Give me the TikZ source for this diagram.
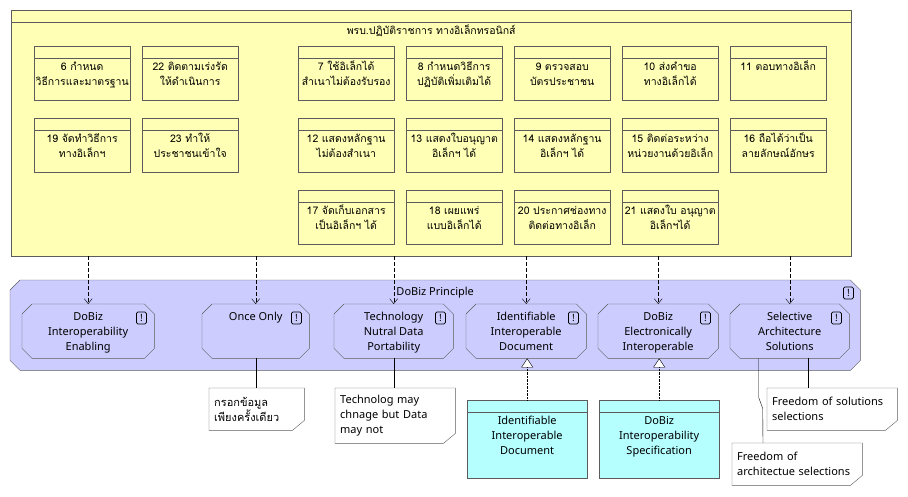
\documentclass[tikz,border=0pt]{standalone}
\usepackage{fontspec}
\setmainfont{Noto Sans}
\newfontfamily\thaifont[Script=Thai]{Loma}
\usetikzlibrary{arrows.meta,backgrounds}

\definecolor{bizyellow}{RGB}{255,255,181}
\definecolor{motivblue}{RGB}{204,204,255}
\definecolor{appcyan}{RGB}{181,255,255}
\definecolor{edgegray}{RGB}{92,92,92}

\tikzset{
  fbox/.style={draw=edgegray,fill=bizyellow,minimum width=96pt,minimum height=54pt,inner sep=0pt,anchor=north west},
  ftext/.style={anchor=north,align=center,inner sep=0pt,font=\thaifont\fontsize{10.5}{15}\selectfont},
  princ/.style={minimum height=54pt,inner sep=0pt,anchor=north west},
  ptext/.style={anchor=north,align=center,inner sep=0pt,font=\fontsize{11}{15}\selectfont},
  warn/.style={draw=black,line width=0.8pt,rounded corners=1.5pt,minimum width=10pt,minimum height=12pt,inner sep=0pt,font=\bfseries\fontsize{10}{10}\selectfont},
  note/.style={inner xsep=5pt,inner ysep=0pt,anchor=north west,align=left,font=\fontsize{11}{15}\selectfont},
  abox/.style={draw=edgegray,fill=appcyan,minimum width=120pt,minimum height=78pt,inner sep=0pt,anchor=north west},
  influence/.style={dash pattern=on 4pt off 2pt,-{Straight Barb[length=5pt,width=8pt]}},
  realize/.style={densely dotted,-{Triangle[open,fill=white,length=9pt,width=12pt]}},
  noteline/.style={black}
}

\newcommand{\funcbox}[4]{%
  \node[fbox] (#1) at (#2,#3) {};
  \draw[edgegray] ([yshift=-12pt]#1.north west) -- ([yshift=-12pt]#1.north east);
  \node[ftext] (#1t) at ([yshift=-12pt]#1.north) {\rule{0pt}{12pt}#4};
}
\newcommand{\chamfer}[1]{%
  \draw[edgegray,fill=motivblue] ([xshift=10pt]#1.north west) -- ([xshift=-10pt]#1.north east)
    -- ([yshift=-10pt]#1.north east) -- ([yshift=10pt]#1.south east) -- ([xshift=-10pt]#1.south east)
    -- ([xshift=10pt]#1.south west) -- ([yshift=10pt]#1.south west) -- ([yshift=-10pt]#1.north west) -- cycle;
}
\newcommand{\notecorner}[1]{%
  \draw[edgegray] (#1.north west) -- (#1.north east) -- ([yshift=10pt]#1.south east)
    -- ([xshift=-12pt]#1.south east) -- (#1.south west) -- cycle;
}

\begin{document}
\begin{tikzpicture}[x=1pt,y=-1pt]
      \useasboundingbox (0,0) rectangle (908,496);

      \node[fbox,minimum width=840pt,minimum height=246pt] (act) at (11,10) {};
      \draw[edgegray] ([yshift=-12pt]act.north west) -- ([yshift=-12pt]act.north east);
      \node[ftext] (actt) at ([yshift=-12pt]act.north) {\rule{0pt}{12pt}พรบ.ปฏิบัติราชการ ทางอิเล็กทรอนิกส์};

      \funcbox{b6}{34}{46}{6 กำหนด\\วิธีการและมาตรฐาน}
      \funcbox{b22}{142}{46}{22 ติดตามเร่งรัด\\ให้ดำเนินการ}
      \funcbox{b7}{298}{46}{7 ใช้อิเล็กได้\\สำเนาไม่ต้องรับรอง}
      \funcbox{b8}{406}{46}{8 กำหนดวิธีการ\\ปฏิบัติเพิ่มเติมได้}
      \funcbox{b9}{514}{46}{9 ตรวจสอบ\\บัตรประชาชน}
      \funcbox{b10}{622}{46}{10 ส่งคำขอ\\ทางอิเล็กได้}
      \funcbox{b11}{730}{46}{11 ตอบทางอิเล็ก}

      \funcbox{b19}{34}{118}{19 จัดทำวิธีการ\\ทางอิเล็กฯ}
      \funcbox{b23}{142}{118}{23 ทำให้\\ประชาชนเข้าใจ}
      \funcbox{b12}{298}{118}{12 แสดงหลักฐาน\\ไม่ต้องสำเนา}
      \funcbox{b13}{406}{118}{13 แสดงใบอนุญาต\\อิเล็กฯ ได้}
      \funcbox{b14}{514}{118}{14 แสดงหลักฐาน\\อิเล็กฯ ได้}
      \funcbox{b15}{622}{118}{15 ติดต่อระหว่าง\\หน่วยงานด้วยอิเล็ก}
      \funcbox{b16}{730}{118}{16 ถือได้ว่าเป็น\\ลายลักษณ์อักษร}

      \funcbox{b17}{298}{190}{17 จัดเก็บเอกสาร\\เป็นอิเล็กฯ ได้}
      \funcbox{b18}{406}{190}{18 เผยแพร่\\แบบอิเล็กได้}
      \funcbox{b20}{514}{190}{20 ประกาศช่องทาง\\ติดต่อทางอิเล็ก}
      \funcbox{b21}{622}{190}{21 แสดงใบ อนุญาต\\อิเล็กฯได้}

      \node[princ,minimum width=850pt,minimum height=90pt] (grp) at (10,280) {};
      \node[princ,minimum width=132pt] (p1) at (22,304) {};
      \node[princ,minimum width=107pt] (p2) at (202,304) {};
      \node[princ,minimum width=119pt] (p3) at (334,304) {};
      \node[princ,minimum width=120pt] (p4) at (466,304) {};
      \node[princ,minimum width=120pt] (p5) at (598,304) {};
      \node[princ,minimum width=119pt] (p6) at (730,304) {};
      \begin{scope}[on background layer]
        \chamfer{grp}
        \chamfer{p1} \chamfer{p2} \chamfer{p3}
        \chamfer{p4} \chamfer{p5} \chamfer{p6}
      \end{scope}

      \node[ptext,anchor=center] (grpt) at ([yshift=-13pt]grp.north) {DoBiz Principle};
      \node[ptext] (p1t) at ([yshift=-4pt]p1.north) {\rule{0pt}{12pt}DoBiz\\Interoperability\\Enabling};
      \node[ptext] (p2t) at ([yshift=-4pt]p2.north) {\rule{0pt}{12pt}Once Only};
      \node[ptext] (p3t) at ([yshift=-4pt]p3.north) {\rule{0pt}{12pt}Technology\\Nutral Data\\Portability};
      \node[ptext] (p4t) at ([yshift=-4pt]p4.north) {\rule{0pt}{12pt}Identifiable\\Interoperable\\Document};
      \node[ptext] (p5t) at ([yshift=-4pt]p5.north) {\rule{0pt}{12pt}DoBiz\\Electronically\\Interoperable};
      \node[ptext] (p6t) at ([yshift=-4pt]p6.north) {\rule{0pt}{12pt}Selective\\Architecture\\Solutions};

      \node[warn] (wg) at ([shift={(-12pt,-13pt)}]grp.north east) {!};
      \node[warn] (w1) at ([shift={(-13pt,-14pt)}]p1.north east) {!};
      \node[warn] (w2) at ([shift={(-13pt,-14pt)}]p2.north east) {!};
      \node[warn] (w3) at ([shift={(-13pt,-14pt)}]p3.north east) {!};
      \node[warn] (w4) at ([shift={(-13pt,-14pt)}]p4.north east) {!};
      \node[warn] (w5) at ([shift={(-13pt,-14pt)}]p5.north east) {!};
      \node[warn] (w6) at ([shift={(-13pt,-14pt)}]p6.north east) {!};

      \draw[influence] (p1.north |- act.south) -- (p1.north);
      \draw[influence] (p2.north |- act.south) -- (p2.north);
      \draw[influence] (p3.north |- act.south) -- (p3.north);
      \draw[influence] (p4.north |- act.south) -- (p4.north);
      \draw[influence] (p5.north |- act.south) -- (p5.north);
      \draw[influence] (p6.north |- act.south) -- (p6.north);

      \node[abox] (c1) at (467,400) {};
      \draw[edgegray] ([yshift=-12pt]c1.north west) -- ([yshift=-12pt]c1.north east);
      \node[ptext] (c1t) at ([yshift=-12pt]c1.north) {\rule{0pt}{12pt}Identifiable\\Interoperable\\Document};
      \node[abox] (c2) at (599,400) {};
      \draw[edgegray] ([yshift=-12pt]c2.north west) -- ([yshift=-12pt]c2.north east);
      \node[ptext] (c2t) at ([yshift=-12pt]c2.north) {\rule{0pt}{12pt}DoBiz\\Interoperability\\Specification};

      \draw[realize] (c1.north) -- (c1.north |- p4.south);
      \draw[realize] (c2.north) -- (c2.north |- p5.south);

      \node[note,text width=85pt,minimum height=42pt] (n1) at (209,388) {\thaifont กรอกข้อมูล\\\thaifont เพียงครั้งเดียว};
      \node[note,text width=110pt,minimum height=55pt] (n2) at (335,388) {Technolog may\\chnage but Data\\may not};
      \node[note,text width=120pt,minimum height=42pt] (n3) at (767,388) {Freedom of solutions\\selections};
      \node[note,text width=120pt,minimum height=42pt] (n4) at (732,443) {Freedom of\\architectue selections};
      \notecorner{n1} \notecorner{n2} \notecorner{n3} \notecorner{n4}

      \draw[noteline] (p2.south) -- (p2.south |- n1.north);
      \draw[noteline] (p3.south) -- (p3.south |- n2.north);
      \draw[noteline] ([xshift=18pt]p6.south) -- ([xshift=18pt]p6.south |- n3.north);
      \draw[noteline] ([xshift=-31pt]p6.south) -- ++(0,-39pt) -- ++(4pt,-11pt) -- ([xshift=31pt]n4.north west);
\end{tikzpicture}
\end{document}
